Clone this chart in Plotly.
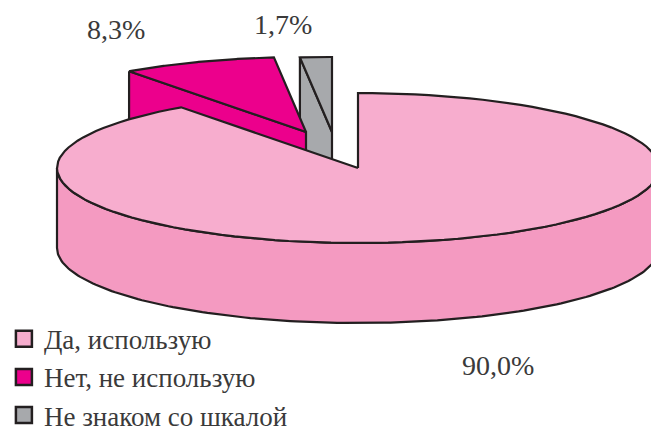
import numpy as np
import plotly.graph_objects as go

categories = ["Да, использую", "Нет, не использую", "Не знаком со шкалой"]
values = [90.0, 8.3, 1.7]
top_colors = ["#F7ADCE", "#EC008C", "#A7A9AC"]
wall_colors = ["#F49AC1", "#EC008C", "#A7A9AC"]
apexes = [(358, 168), (306, 132), (332, 132)]
label_pos = [(498, 365), (116, 29), (283, 24)]
RX, RY, DEPTH = 301, 75, 80
INK = "#231F20"
TEXT = "#3A3A3A"

fractions = np.array(values) / sum(values)
starts = np.concatenate([[0], np.cumsum(fractions)[:-1]]) * 2 * np.pi
ends = np.cumsum(fractions) * 2 * np.pi

fig = go.Figure()

def poly(xs, ys, fill, line=INK, width=2.2):
    fig.add_trace(go.Scatter(x=xs, y=ys, mode="lines", fill="toself", fillcolor=fill,
                             line=dict(color=line, width=width), showlegend=False, hoverinfo="skip"))

# draw back slices first, the main slice last
for i in [2, 1, 0]:
    cx, cy = apexes[i]
    t = np.linspace(starts[i], ends[i], 120)
    ax, ay = cx + RX * np.sin(t), cy - RY * np.cos(t)
    if i == 0:
        # outer wall: front half of the rim
        w = np.linspace(np.pi / 2, 3 * np.pi / 2, 160)
        wx, wy = cx + RX * np.sin(w), cy - RY * np.cos(w)
        poly(np.r_[wx, wx[::-1], wx[0]], np.r_[wy, wy[::-1] + DEPTH, wy[0]], wall_colors[i])
    else:
        # cut face dropped below the leading edge
        ex, ey = [ax[0], cx], [ay[0], cy]
        poly([ex[0], ex[1], ex[1], ex[0], ex[0]],
             [ey[0], ey[1], ey[1] + DEPTH, ey[0] + DEPTH, ey[0]], wall_colors[i])
    poly(np.r_[cx, ax, cx], np.r_[cy, ay, cy], top_colors[i])

for name, col in zip(categories, top_colors):
    fig.add_trace(go.Scatter(x=[None], y=[None], mode="markers", name=name, legendgroup=name,
                             marker=dict(symbol="square", size=16, color=col, line=dict(color=INK, width=2.5))))

for v, (x, y) in zip(values, label_pos):
    fig.add_annotation(x=x, y=y, text=f"{v:.1f}%".replace(".", ","), showarrow=False,
                       font=dict(family="Liberation Serif", size=28, color=TEXT))

fig.update_layout(
    width=651, height=430, margin=dict(l=0, r=0, t=0, b=0, autoexpand=False),
    paper_bgcolor="white", plot_bgcolor="white",
    xaxis=dict(range=[0, 651], visible=False, fixedrange=True),
    yaxis=dict(range=[430, 0], visible=False, fixedrange=True),
    font=dict(family="Liberation Serif", size=27, color=TEXT),
    legend=dict(x=0.006, y=0.268, xanchor="left", yanchor="top", bgcolor="rgba(0,0,0,0)",
                tracegroupgap=0, itemclick=False, itemdoubleclick=False),
)
fig.write_html("out.html", config={"displayModeBar": False},
               post_script="document.body.style.margin='0';")
